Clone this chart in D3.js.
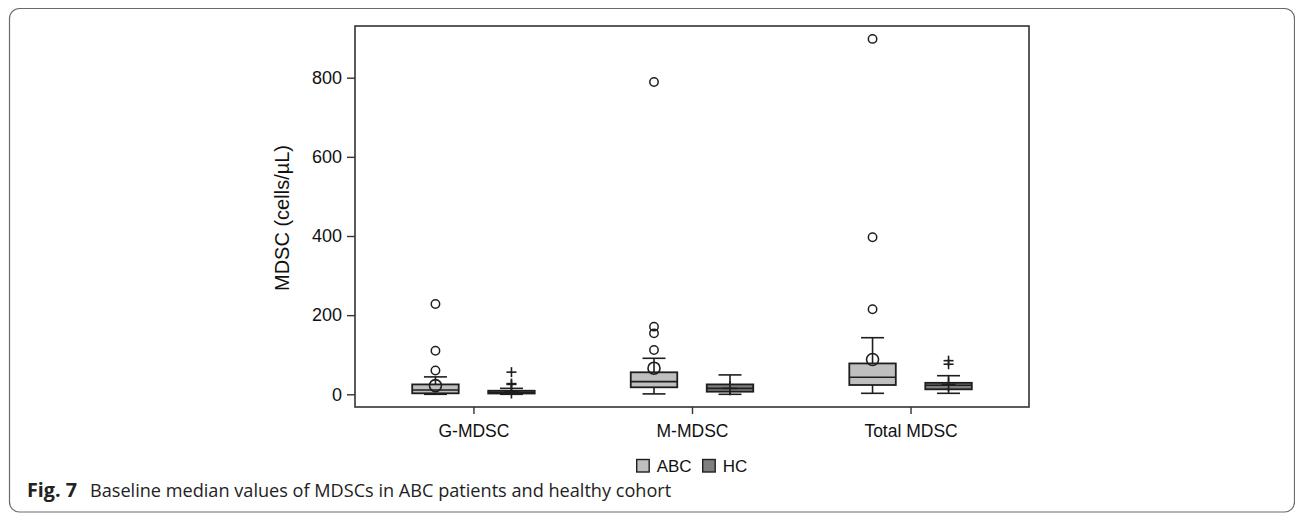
<!DOCTYPE html>
<html><head><meta charset="utf-8">
<script src="https://cdn.jsdelivr.net/npm/d3@7"></script>
<style>
html,body{margin:0;padding:0;background:#fff;}
svg{display:block;}
</style></head>
<body>
<svg id="chart" width="1295" height="513"></svg>
<script>
// ---- data ----
const categories = ["G-MDSC", "M-MDSC", "Total MDSC"];
const groups = ["ABC", "HC"];
const yTicks = [0, 200, 400, 600, 800];

const abcWhiskerLow  = [0, 1, 2.5];
const abcQ1          = [2.5, 17.7, 23.5];
const abcMedian      = [11, 32, 43];
const abcQ3          = [25, 55.6, 78];
const abcWhiskerHigh = [44, 91, 143];
const abcMean        = [22, 66, 88];
const abcOutliers    = [[60, 110, 228], [112, 154, 171, 789], [215, 397, 898]];

const hcWhiskerLow  = [0, 0, 2.5];
const hcQ1          = [2, 6.6, 12.6];
const hcMedian      = [5, 15, 23];
const hcQ3          = [9, 25, 29];
const hcWhiskerHigh = [15, 49, 47];
const hcMean        = [7, 15, 25];
const hcOutliers    = [[25, 27, 56], [], [76, 85]];

const captionBold = "Fig. 7";
const captionText = "Baseline median values of MDSCs in ABC patients and healthy cohort";
const yTitle = "MDSC (cells/\u00B5L)";

// ---- layout ----
const svg = d3.select("#chart");
const plot = {left: 355, right: 1029, top: 26, bottom: 407};
const ink = "#1e1e1e";
const font = "'Liberation Sans', Arial, Helvetica, sans-serif";
const fills = {ABC: "#bfbfbf", HC: "#7f7f7f"};

// outer rounded frame
svg.append("rect").attr("x", 9.5).attr("y", 8.5).attr("width", 1285).attr("height", 503.5)
  .attr("rx", 10).attr("fill", "none").attr("stroke", "#6a6a6a").attr("stroke-width", 1.2);

const x = d3.scalePoint().domain(categories).range([plot.left, plot.right]).padding(0.542);
const xg = d3.scalePoint().domain(groups).range([-38, 38]);
const y = d3.scaleLinear().domain([0, 800]).range([394.3, 77.7]);
const boxW = 46.5, capW = 23;

// plot frame
svg.append("rect").attr("x", plot.left).attr("y", plot.top)
  .attr("width", plot.right - plot.left).attr("height", plot.bottom - plot.top)
  .attr("fill", "none").attr("stroke", "#333").attr("stroke-width", 1.6);

// y axis
const yAxis = svg.append("g").attr("transform", `translate(${plot.left},0)`)
  .call(d3.axisLeft(y).tickValues(yTicks).tickSize(8).tickPadding(5).tickFormat(d3.format("d")));
yAxis.select(".domain").remove();
yAxis.selectAll("line").attr("stroke", "#333").attr("stroke-width", 1.4);
yAxis.selectAll("text").attr("font-family", font).attr("font-size", 18).attr("fill", "#111");

// x axis
const xAxis = svg.append("g").attr("transform", `translate(0,${plot.bottom})`)
  .call(d3.axisBottom(x).tickSize(7).tickPadding(11));
xAxis.select(".domain").remove();
xAxis.selectAll("line").attr("stroke", "#333").attr("stroke-width", 1.4);
xAxis.selectAll("text").attr("font-family", font).attr("font-size", 17.5).attr("fill", "#111");

// y title
svg.append("text").attr("transform", "translate(289,218) rotate(-90)")
  .attr("text-anchor", "middle").attr("font-family", font).attr("font-size", 20)
  .attr("fill", "#111").text(yTitle);

// build box data
const boxes = [];
categories.forEach((c, i) => {
  boxes.push({cat: c, group: "ABC", lo: abcWhiskerLow[i], q1: abcQ1[i], med: abcMedian[i], q3: abcQ3[i],
    hi: abcWhiskerHigh[i], mean: abcMean[i], out: abcOutliers[i]});
  boxes.push({cat: c, group: "HC", lo: hcWhiskerLow[i], q1: hcQ1[i], med: hcMedian[i], q3: hcQ3[i],
    hi: hcWhiskerHigh[i], mean: hcMean[i], out: hcOutliers[i]});
});

const g = svg.append("g");
boxes.forEach(b => {
  const cx = x(b.cat) + xg(b.group);
  const bg = g.append("g");
  // whiskers
  bg.append("line").attr("x1", cx).attr("x2", cx).attr("y1", y(b.q3)).attr("y2", y(b.hi))
    .attr("stroke", ink).attr("stroke-width", 1.6);
  bg.append("line").attr("x1", cx).attr("x2", cx).attr("y1", y(b.q1)).attr("y2", y(b.lo))
    .attr("stroke", ink).attr("stroke-width", 1.6);
  [b.hi, b.lo].forEach(v => bg.append("line").attr("x1", cx - capW / 2).attr("x2", cx + capW / 2)
    .attr("y1", y(v)).attr("y2", y(v)).attr("stroke", ink).attr("stroke-width", 1.6));
  // box
  bg.append("rect").attr("x", cx - boxW / 2).attr("width", boxW)
    .attr("y", y(b.q3)).attr("height", Math.max(0.5, y(b.q1) - y(b.q3)))
    .attr("fill", fills[b.group]).attr("stroke", ink).attr("stroke-width", 1.8);
  bg.append("line").attr("x1", cx - boxW / 2).attr("x2", cx + boxW / 2)
    .attr("y1", y(b.med)).attr("y2", y(b.med)).attr("stroke", ink).attr("stroke-width", 1.6);
  // mean + outliers
  if (b.group === "ABC") {
    bg.append("circle").attr("cx", cx).attr("cy", y(b.mean)).attr("r", 6)
      .attr("fill", "none").attr("stroke", ink).attr("stroke-width", 1.6);
    b.out.forEach(v => bg.append("circle").attr("cx", cx).attr("cy", y(v)).attr("r", 4.2)
      .attr("fill", "none").attr("stroke", ink).attr("stroke-width", 1.5));
  } else {
    const plus = (v, s, w) => {
      bg.append("line").attr("x1", cx - s).attr("x2", cx + s).attr("y1", y(v)).attr("y2", y(v))
        .attr("stroke", ink).attr("stroke-width", w);
      bg.append("line").attr("x1", cx).attr("x2", cx).attr("y1", y(v) - s).attr("y2", y(v) + s)
        .attr("stroke", ink).attr("stroke-width", w);
    };
    plus(b.mean, 7, 1.6);
    b.out.forEach(v => plus(v, 5, 1.6));
  }
});

// legend
const leg = svg.append("g");
const legItems = [{k: "ABC", x: 636.7}, {k: "HC", x: 702.7}];
legItems.forEach(it => {
  leg.append("rect").attr("x", it.x).attr("y", 459.5).attr("width", 12.5).attr("height", 12.5)
    .attr("fill", fills[it.k]).attr("stroke", ink).attr("stroke-width", 1.4);
  leg.append("text").attr("x", it.x + 20).attr("y", 471.5).attr("font-family", font)
    .attr("font-size", 17).attr("fill", "#111").text(it.k);
});

// caption
const cap = svg.append("text").attr("x", 27).attr("y", 497)
  .attr("font-family", "'Open Sans', 'Noto Sans', sans-serif").attr("font-size", 16.5).attr("fill", "#222");
cap.append("tspan").attr("font-weight", "bold").text(captionBold);
cap.append("tspan").attr("x", 90).text(captionText);
// fit caption body width to reference span
const body = cap.select("tspan:nth-child(2)");
const w = body.node().getComputedTextLength();
const target = 672 - 90;
body.attr("font-size", 16.5 * target / w);
const fb = cap.select("tspan:nth-child(1)");
const wb = fb.node().getComputedTextLength();
fb.attr("font-size", 16.5 * 50 / wb);
</script>
</body></html>
